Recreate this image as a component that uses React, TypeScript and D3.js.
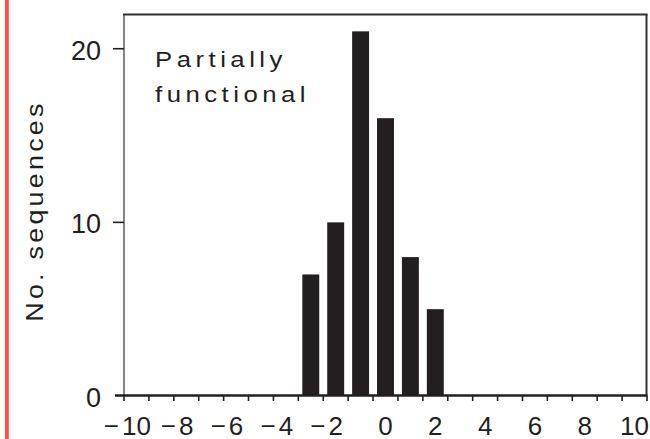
import React from "react";
import * as d3 from "d3";

const binCenters = [-3, -2, -1, 0, 1, 2];
const counts = [7, 10, 21, 16, 8, 5];
const xTickLabels = [-10, -8, -6, -4, -2, 0, 2, 4, 6, 8, 10];
const yTickLabels = [0, 10, 20];
const binEdges = d3.range(-10.5, 10.51, 1);
const annotationLines = ["Partially", "functional"];
const yTitle = "No. sequences";

const W = 650;
const H = 439;
const left = 124;
const right = 647;
const top = 14;
const bottom = 396;

export default function App() {
  const x = d3.scaleLinear().domain([-10.5, 10.5]).range([left, right]);
  const y = d3.scaleLinear().domain([0, 22]).range([bottom, top]);
  const halfBar = 0.34;
  const ink = "#231f20";
  const font = "'Liberation Sans', Arial, Helvetica, sans-serif";
  const digitW = 14.5;

  return (
    <svg
      width={W}
      height={H}
      style={{ position: "absolute", left: 0, top: 0, background: "#fff" }}
      fontFamily={font}
    >
      <rect x={0} y={0} width={W} height={H} fill="#fff" />
      {/* red left border */}
      <rect x={5} y={0} width={3.8} height={H} fill="#ff4d4f" />

      {/* bars */}
      {binCenters.map((c, i) => (
        <rect
          key={c}
          x={x(c - halfBar)}
          y={y(counts[i])}
          width={x(c + halfBar) - x(c - halfBar)}
          height={y(0) - y(counts[i])}
          fill={ink}
        />
      ))}

      {/* frame */}
      <line x1={left} x2={left} y1={top} y2={bottom} stroke="#444" strokeWidth={1.3} />
      <line x1={left - 1} x2={right + 0.5} y1={top + 0.5} y2={top + 0.5} stroke="#333" strokeWidth={2} />
      <line x1={right - 0.5} x2={right - 0.5} y1={top} y2={bottom} stroke="#333" strokeWidth={2} />
      <line x1={115} x2={right + 0.5} y1={y(0) - 0.5} y2={y(0) - 0.5} stroke={ink} strokeWidth={2.6} />

      {/* x ticks at bin edges */}
      {binEdges.map((e) => (
        <line key={e} x1={x(e)} x2={x(e)} y1={y(0)} y2={y(0) + 5} stroke={ink} strokeWidth={1.6} />
      ))}

      {/* y ticks */}
      {yTickLabels
        .filter((v) => v !== 0)
        .map((v) => (
          <line key={v} x1={113} x2={left} y1={y(v)} y2={y(v)} stroke={ink} strokeWidth={1.6} />
        ))}

      {/* y labels */}
      {yTickLabels.map((v) => (
        <text key={v} x={101} y={y(v) + 11} fontSize={27} fill={ink} textAnchor="end">
          {String(v)}
        </text>
      ))}

      {/* x labels */}
      {xTickLabels.map((v) => {
        const digits = String(Math.abs(v));
        const cx = x(v);
        const dLeft = cx - (digits.length * digitW) / 2;
        return (
          <g key={v}>
            <text x={cx} y={434.5} fontSize={26} fill={ink} textAnchor="middle">
              {digits}
            </text>
            {v < 0 && (
              <text x={dLeft - 3} y={434.5} fontSize={26} fill={ink} textAnchor="end">
                {"\u2212"}
              </text>
            )}
          </g>
        );
      })}

      {/* annotation */}
      {annotationLines.map((t, i) => (
        <text
          key={t}
          transform={`translate(155, ${67 + i * 34.5}) scale(1.12, 1)`}
          fontSize={23}
          fill={ink}
          style={{ letterSpacing: "4px" }}
        >
          {t}
        </text>
      ))}

      {/* y title */}
      <text
        transform={`translate(43, 211) rotate(-90) scale(1.12, 1)`}
        fontSize={24}
        fill={ink}
        textAnchor="middle"
        style={{ letterSpacing: "2.9px" }}
      >
        {yTitle}
      </text>
    </svg>
  );
}
